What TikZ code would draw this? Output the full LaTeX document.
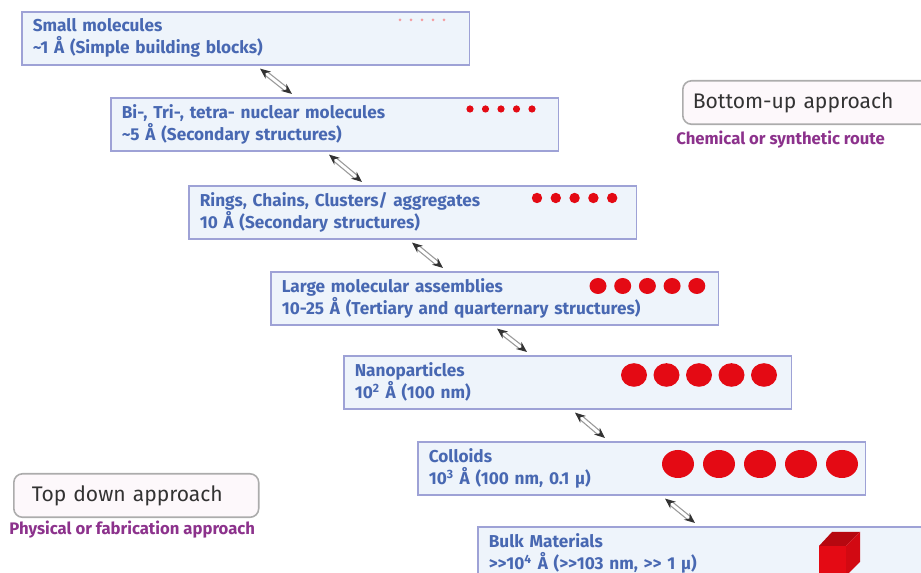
\documentclass[tikz,border=0pt]{standalone}
\usepackage{fontspec}
\setmainfont{Fira Sans}
\usetikzlibrary{arrows.meta,positioning}
\definecolor{boxfill}{RGB}{238,244,251}
\definecolor{boxline}{RGB}{158,162,214}
\definecolor{txtblue}{RGB}{72,104,178}
\definecolor{routepurple}{RGB}{140,50,140}
\definecolor{dotred}{RGB}{228,10,20}
\definecolor{apfill}{RGB}{253,248,251}
\newcommand{\muchmore}{>\kern0pt>}

\begin{document}
\begin{tikzpicture}[x=0.02cm, y=-0.02cm,
  sizebox/.style={draw=boxline, line width=0.9pt, fill=boxfill, anchor=north west,
    minimum height=1.06cm, text width=8.52cm, inner xsep=0.22cm, align=left,
    text=txtblue, font=\bfseries\fontsize{9.8}{12.6}\selectfont},
  approach/.style={draw=gray!65, line width=0.9pt, fill=apfill, rounded corners=5pt,
    anchor=north west, minimum height=0.87cm, text=black!80, align=left,
    font=\fontsize{12}{14}\selectfont},
  route/.style={anchor=base west, inner sep=0pt, text=routepurple,
    font=\bfseries\fontsize{9.5}{11}\selectfont},
  link/.style={{Stealth[length=6pt,width=5pt,black!80]}-{Stealth[length=6pt,width=5pt,black!80]},
    draw=gray!80, double=white, double distance=1.6pt, line width=0.7pt}]
  \useasboundingbox (0,0) rectangle (921,573);
  \clip (0,0) rectangle (921,573);

  % size scale, small to bulk
  \node[sizebox] (small) at (21,11) {Small molecules\\
    \textasciitilde 1 Å (Simple building blocks)};
  \node[sizebox] (nuclear) at (110,97) {Bi-, Tri-, tetra- nuclear molecules\\
    \textasciitilde 5 Å (Secondary structures)};
  \node[sizebox] (rings) at (188,185) {Rings, Chains, Clusters/ aggregates\\
    10 Å (Secondary structures)};
  \node[sizebox] (large) at (270,271) {Large molecular assemblies\\
    10-25 Å (Tertiary and quarternary structures)};
  \node[sizebox] (nano) at (343,355) {Nanoparticles\\
    10\textsuperscript{2} Å (100 nm)};
  \node[sizebox] (colloid) at (417,441) {Colloids\\
    10\textsuperscript{3} Å (100 nm, 0.1 μ)};
  \node[sizebox] (bulk) at (477,526) {Bulk Materials\\
    \muchmore 10\textsuperscript{4} Å (\muchmore 103 nm, \muchmore\ 1 μ)};

  % particles
  \foreach \i in {0,...,4} {
    \fill[dotred!40] (400+11*\i,20) circle (1.5);
    \fill[dotred] (470+15.5*\i,109) circle (3.6);
    \fill[dotred] (537+18.8*\i,198) circle (5.2);
    \fill[dotred] (598+24.7*\i,286) ellipse (8.5 and 8);
    \fill[dotred] (634+32.5*\i,375) ellipse (13 and 11.8);
    \fill[dotred] (678+41*\i,464) ellipse (16 and 14);
  }
  % bulk cube
  \fill[dotred!80!black] (819,546) -- (832,532) -- (860,532) -- (846,546) -- cycle;
  \fill[dotred!92!black] (846,546) -- (860,532) -- (860,562) -- (846,576) -- cycle;
  \fill[dotred] (819,546) rectangle (846,576);

  % links between sizes
  \foreach \a/\b/\s/\e in {small/nuclear/239/182, nuclear/rings/219/174,
      rings/large/224/173, large/nano/227/184, nano/colloid/232/188,
      colloid/bulk/248/218}
    \draw[link] ([xshift=\s*0.02cm, yshift=-3*0.02cm]\a.south west)
      -- ([xshift=\e*0.02cm, yshift=3*0.02cm]\b.north west);

  % approaches
  \node[approach, text width=4.6cm, inner xsep=0.2cm] (bottomup)
    at (682,80) {Bottom-up approach};
  \node[route] (chem) at (676,145) {Chemical or synthetic route};
  \node[approach, text width=4.18cm, inner xsep=0.36cm] (topdown)
    at (13,473) {Top down approach};
  \node[route] (phys) at (9,535) {Physical or fabrication approach};
\end{tikzpicture}
\end{document}
